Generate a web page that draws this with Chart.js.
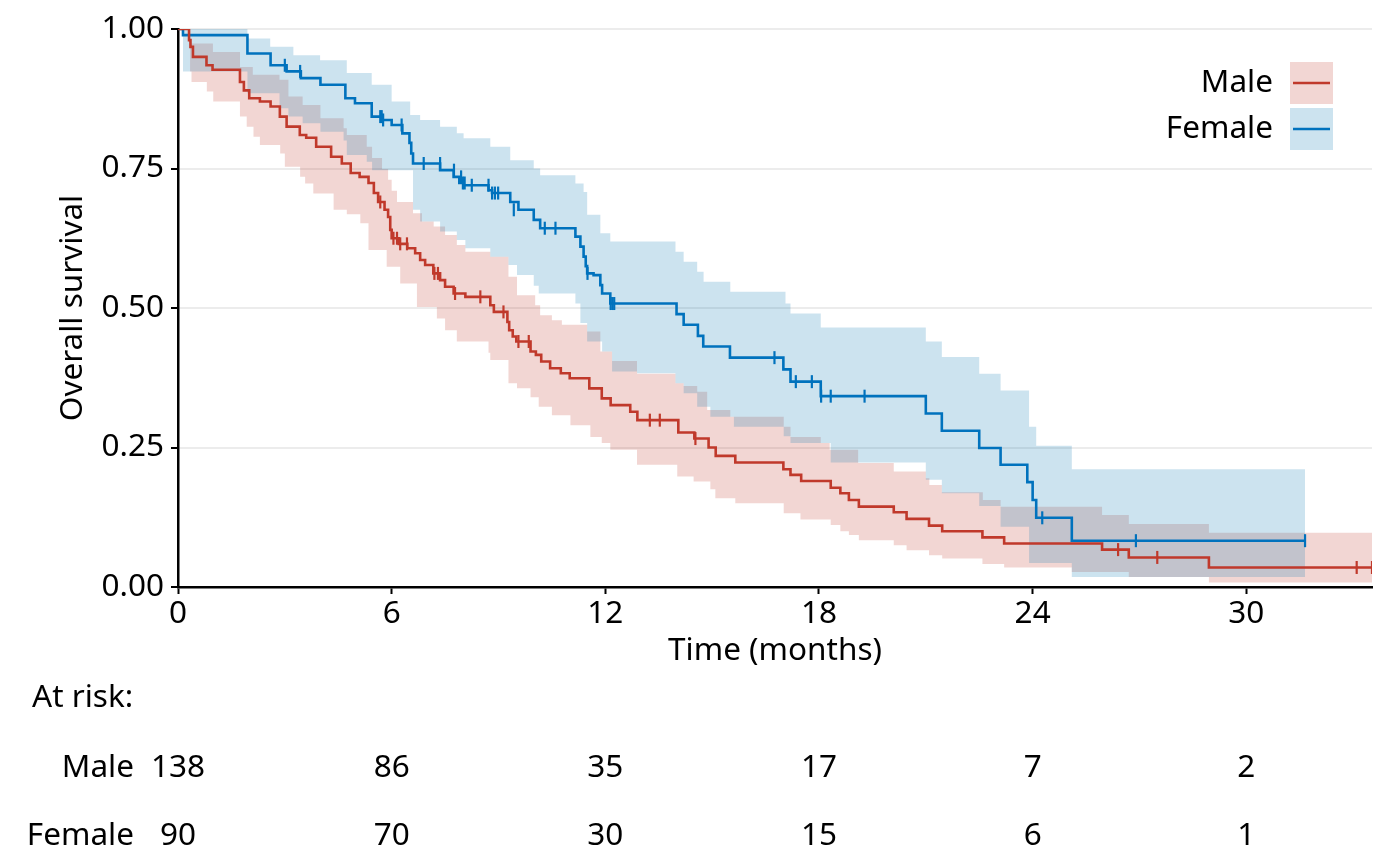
<!DOCTYPE html>
<html>
<head>
<meta charset="utf-8">
<script src="https://cdn.jsdelivr.net/npm/chart.js@4.4.0/dist/chart.umd.min.js"></script>
<style>
  body { margin: 0; background: #fff; }
</style>
</head>
<body>
<canvas id="kmChart" width="1400" height="866"></canvas>
<script>
// Kaplan-Meier estimates, [months, survival]
const maleCurve = [[0,1],[0.31,0.98],[0.35,0.968],[0.42,0.95],[0.8,0.935],[0.97,0.927],[1.74,0.905],[1.85,0.89],[2.0,0.876],[2.3,0.87],[2.6,0.861],[2.86,0.843],[3.05,0.825],[3.42,0.81],[3.6,0.805],[3.88,0.789],[4.3,0.771],[4.6,0.759],[4.85,0.742],[5.1,0.735],[5.35,0.724],[5.5,0.706],[5.62,0.69],[5.8,0.676],[5.9,0.663],[5.96,0.64],[6.0,0.625],[6.2,0.615],[6.44,0.607],[6.66,0.598],[6.8,0.586],[6.94,0.577],[7.17,0.562],[7.36,0.55],[7.5,0.538],[7.74,0.526],[8.07,0.52],[8.77,0.505],[8.87,0.493],[9.25,0.475],[9.3,0.46],[9.4,0.449],[9.5,0.44],[9.9,0.422],[10.05,0.416],[10.2,0.404],[10.45,0.392],[10.75,0.383],[11.0,0.374],[11.55,0.356],[11.9,0.338],[12.15,0.326],[12.7,0.314],[12.9,0.299],[14.05,0.277],[14.5,0.266],[14.9,0.25],[15.1,0.235],[15.65,0.223],[17.0,0.211],[17.2,0.201],[17.5,0.19],[18.33,0.178],[18.6,0.168],[18.84,0.156],[19.12,0.144],[20.1,0.134],[20.46,0.122],[21.09,0.11],[21.46,0.1],[22.59,0.089],[23.2,0.078],[25.95,0.067],[26.7,0.053],[28.95,0.035],[33.53,0.035]];
const maleUpper = [[0,1],[0.34,0.974],[0.98,0.959],[1.74,0.932],[2.1,0.918],[2.85,0.909],[3.1,0.879],[3.5,0.864],[4.0,0.84],[4.65,0.822],[4.74,0.81],[5.3,0.789],[5.45,0.769],[5.73,0.749],[5.9,0.73],[6.0,0.71],[6.15,0.69],[6.6,0.67],[6.85,0.655],[7.18,0.646],[7.5,0.631],[7.83,0.613],[8.07,0.601],[8.77,0.592],[9.28,0.556],[9.52,0.523],[10.03,0.505],[10.17,0.487],[10.5,0.478],[10.78,0.47],[11.49,0.458],[11.86,0.422],[12.19,0.405],[12.89,0.382],[13.97,0.365],[14.2,0.36],[14.58,0.35],[14.86,0.317],[15.51,0.305],[17.01,0.287],[17.2,0.269],[18.05,0.258],[18.3,0.246],[19.1,0.222],[20.1,0.207],[21.0,0.195],[21.1,0.183],[21.45,0.17],[22.6,0.156],[23.1,0.144],[25.95,0.129],[26.7,0.113],[28.95,0.097],[33.53,0.097]];
const maleLower = [[0,1],[0.34,0.924],[0.38,0.905],[0.81,0.888],[0.99,0.87],[1.74,0.843],[1.93,0.825],[2.12,0.807],[2.3,0.792],[2.87,0.777],[3.0,0.753],[3.43,0.735],[3.57,0.723],[3.8,0.705],[4.37,0.676],[4.74,0.668],[5.12,0.652],[5.35,0.604],[5.86,0.574],[6.24,0.544],[6.71,0.502],[7.27,0.481],[7.5,0.46],[7.83,0.44],[8.72,0.42],[8.77,0.407],[9.28,0.365],[9.52,0.356],[9.9,0.34],[10.13,0.323],[10.5,0.308],[11.02,0.29],[11.58,0.269],[11.9,0.258],[12.14,0.246],[12.89,0.219],[14.02,0.198],[14.48,0.189],[14.95,0.175],[15.09,0.159],[15.65,0.15],[17.01,0.132],[17.48,0.121],[18.33,0.111],[18.6,0.1],[18.84,0.093],[19.12,0.084],[20.1,0.075],[20.46,0.066],[21.09,0.057],[21.46,0.051],[22.59,0.041],[23.2,0.035],[25.1,0.027],[26.7,0.018],[28.95,0.008],[33.53,0.008]];
const maleCensor = [[5.68,0.69],[6.05,0.625],[6.15,0.625],[6.24,0.615],[6.43,0.615],[7.2,0.562],[7.3,0.562],[7.78,0.526],[8.49,0.52],[9.14,0.493],[9.56,0.44],[9.85,0.44],[13.25,0.299],[13.53,0.299],[14.53,0.266],[26.4,0.067],[27.5,0.053],[33.1,0.035],[33.53,0.035]];

const femaleCurve = [[0,1],[0.14,0.989],[1.95,0.956],[2.6,0.935],[3.05,0.924],[3.45,0.912],[4.0,0.9],[4.7,0.876],[4.97,0.867],[5.44,0.843],[5.75,0.837],[6.0,0.828],[6.3,0.813],[6.5,0.796],[6.55,0.777],[6.6,0.759],[7.36,0.747],[7.74,0.735],[7.9,0.724],[8.02,0.72],[8.72,0.711],[8.82,0.706],[9.33,0.69],[9.56,0.676],[9.99,0.658],[10.17,0.643],[11.16,0.628],[11.3,0.61],[11.39,0.592],[11.45,0.575],[11.49,0.562],[11.67,0.559],[11.86,0.541],[11.91,0.526],[12.14,0.508],[14.0,0.489],[14.2,0.47],[14.6,0.45],[14.75,0.431],[15.5,0.411],[17.0,0.39],[17.2,0.368],[18.05,0.342],[21.0,0.311],[21.45,0.28],[22.5,0.249],[23.1,0.219],[23.85,0.188],[24.0,0.156],[24.1,0.124],[25.1,0.083],[31.65,0.083]];
const femaleUpper = [[0,1],[1.95,0.983],[2.59,0.968],[3.24,0.953],[3.99,0.944],[4.74,0.921],[5.44,0.9],[6.0,0.87],[6.52,0.846],[6.8,0.837],[7.36,0.825],[7.83,0.813],[8.02,0.804],[8.77,0.789],[9.33,0.765],[9.99,0.75],[10.17,0.738],[11.16,0.723],[11.39,0.708],[11.49,0.667],[11.86,0.634],[12.14,0.619],[13.97,0.601],[14.2,0.583],[14.58,0.565],[14.76,0.547],[15.51,0.529],[17.06,0.508],[17.2,0.49],[18.05,0.465],[21.0,0.44],[21.45,0.412],[22.5,0.382],[23.1,0.352],[23.9,0.287],[24.1,0.253],[25.1,0.211],[31.65,0.211]];
const femaleLower = [[0,1],[0.14,0.924],[1.95,0.885],[2.85,0.858],[3.1,0.843],[3.5,0.831],[4.0,0.816],[4.65,0.8],[4.74,0.774],[5.3,0.762],[5.45,0.747],[6.6,0.676],[6.8,0.655],[7.36,0.637],[7.83,0.622],[8.07,0.607],[8.77,0.592],[9.28,0.577],[9.52,0.559],[9.99,0.54],[10.13,0.526],[11.16,0.508],[11.3,0.473],[11.49,0.44],[11.91,0.422],[12.19,0.386],[12.89,0.383],[13.97,0.365],[14.2,0.347],[14.58,0.323],[14.95,0.305],[15.61,0.287],[17.01,0.27],[17.2,0.258],[18.33,0.223],[21.0,0.192],[21.45,0.168],[22.5,0.145],[23.1,0.108],[23.9,0.043],[25.1,0.018],[31.65,0.018]];
const femaleCensor = [[3.0,0.935],[3.43,0.924],[5.68,0.843],[5.72,0.843],[5.76,0.837],[6.28,0.828],[6.9,0.759],[7.36,0.759],[7.75,0.747],[7.95,0.735],[8.0,0.724],[8.05,0.724],[8.25,0.72],[8.72,0.72],[8.82,0.706],[8.9,0.706],[8.99,0.706],[9.43,0.676],[10.3,0.643],[10.6,0.643],[11.5,0.562],[12.15,0.508],[12.2,0.508],[12.25,0.508],[16.75,0.411],[17.35,0.368],[17.8,0.368],[18.06,0.342],[18.33,0.342],[19.28,0.342],[24.27,0.124],[26.9,0.083],[31.65,0.083]];

const xTicks = [0, 6, 12, 18, 24, 30];
const yTicks = [0, 0.25, 0.5, 0.75, 1];
const groups = ['Male', 'Female'];
const maleAtRisk = [138, 86, 35, 17, 7, 2];
const femaleAtRisk = [90, 70, 30, 15, 6, 1];

const RED = 'rgb(192,57,43)';
const BLUE = 'rgb(0,114,189)';
const RED_BAND = 'rgba(190,50,35,0.2)';
const BLUE_BAND = 'rgba(0,115,175,0.2)';
const FONT = '"Noto Sans", "Open Sans", sans-serif';
const FS = 31.5;

const pts = arr => arr.map(p => ({ x: p[0], y: p[1] }));

function band(data, color, fillTarget, order) {
  return {
    data: pts(data), stepped: true, borderWidth: 0, pointRadius: 0,
    backgroundColor: color, fill: fillTarget, order: order
  };
}
function curve(data, color) {
  return { data: pts(data), stepped: true, borderColor: color, borderWidth: 2.6, pointRadius: 0, fill: false, order: 1 };
}
function censor(data, color) {
  return {
    data: pts(data), showLine: false, pointStyle: 'line', rotation: 90, pointRadius: 6.5,
    borderColor: color, pointBorderWidth: 2.2, pointBorderColor: color, order: 0
  };
}

const extras = {
  id: 'extras',
  afterDraw(chart) {
    const ctx = chart.ctx, xs = chart.scales.x;
    ctx.save();
    ctx.font = FS + 'px ' + FONT;
    ctx.fillStyle = '#000';
    ctx.textBaseline = 'middle';

    // at-risk table
    ctx.textAlign = 'left';
    ctx.fillText('At risk:', 32, 698);
    const rows = [maleAtRisk, femaleAtRisk];
    const rowY = [768, 836];
    rows.forEach((vals, i) => {
      ctx.textAlign = 'right';
      ctx.fillText(groups[i], 134, rowY[i]);
      ctx.textAlign = 'center';
      vals.forEach((v, j) => ctx.fillText(String(v), xs.getPixelForValue(xTicks[j]), rowY[i]));
    });

    // legend
    const bandCols = [RED_BAND, BLUE_BAND], lineCols = [RED, BLUE];
    groups.forEach((g, i) => {
      const top = 62 + i * 46;
      ctx.fillStyle = '#fff';
      ctx.fillRect(1290, top, 43, 42);
      ctx.fillStyle = bandCols[i];
      ctx.fillRect(1290, top, 43, 42);
      ctx.strokeStyle = lineCols[i];
      ctx.lineWidth = 2.6;
      ctx.beginPath();
      ctx.moveTo(1293, top + 21);
      ctx.lineTo(1330, top + 21);
      ctx.stroke();
      ctx.fillStyle = '#000';
      ctx.textAlign = 'right';
      ctx.fillText(g, 1273, top + 21);
    });
    ctx.restore();
  }
};

new Chart(document.getElementById('kmChart'), {
  type: 'line',
  data: {
    datasets: [
      band(maleUpper, RED_BAND, '+1', 6),
      band(maleLower, RED_BAND, false, 6),
      band(femaleUpper, BLUE_BAND, '+1', 5),
      band(femaleLower, BLUE_BAND, false, 5),
      curve(maleCurve, RED),
      curve(femaleCurve, BLUE),
      censor(maleCensor, RED),
      censor(femaleCensor, BLUE)
    ]
  },
  options: {
    responsive: false,
    animation: false,
    layout: { padding: { left: 52, right: 28, top: 29, bottom: 194 } },
    plugins: { legend: { display: false }, tooltip: { enabled: false } },
    scales: {
      x: {
        type: 'linear', min: 0, max: 33.53,
        afterBuildTicks: s => { s.ticks = xTicks.map(v => ({ value: v })); },
        afterFit: s => { s.height = 85; },
        border: { color: '#000', width: 2.5 },
        grid: { drawOnChartArea: false, tickColor: '#000', tickLength: 7, tickWidth: 2 },
        ticks: { color: '#000', font: { family: FONT, size: FS }, padding: 1, maxRotation: 0 },
        title: { display: true, text: 'Time (months)', color: '#000', font: { family: FONT, size: FS }, padding: { top: 0, bottom: 2 } }
      },
      y: {
        min: 0, max: 1,
        afterBuildTicks: s => { s.ticks = yTicks.map(v => ({ value: v })); },
        afterFit: s => { s.width = 126; },
        border: { color: '#000', width: 2.5 },
        grid: { color: '#ececec', lineWidth: 2, tickColor: '#000', tickLength: 7, tickWidth: 2 },
        ticks: { color: '#000', font: { family: FONT, size: FS }, padding: 7, callback: v => v.toFixed(2) },
        title: { display: true, text: 'Overall survival', color: '#000', font: { family: FONT, size: FS }, padding: { top: 2, bottom: 0 } }
      }
    }
  },
  plugins: [extras]
});
</script>
</body>
</html>
